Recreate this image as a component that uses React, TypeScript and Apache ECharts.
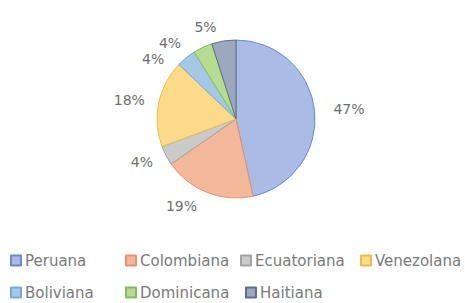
import React, { useEffect, useRef } from "react";
import * as echarts from "echarts";

const categories = ["Peruana", "Colombiana", "Ecuatoriana", "Venezolana", "Boliviana", "Dominicana", "Haitiana"];
const values = [47, 19, 4, 18, 4, 4, 5];
const fills = ["#aabbe6", "#f3b89a", "#cacaca", "#fdd98a", "#a5c8e6", "#b5dc90", "#9ba8bd"];
const borders = ["#6a88cc", "#e39470", "#a3a3a3", "#e8bd55", "#74a9d8", "#86bb62", "#5f6f88"];
const legendLeft = [10, 125, 240, 360, 10, 125, 245];
const legendTop = [253, 253, 253, 253, 285, 285, 285];

export default function App() {
  const ref = useRef<HTMLDivElement>(null);
  useEffect(() => {
    const chart = echarts.init(ref.current!, null, { renderer: "svg" });
    const legends = categories.map((c, i) => ({
      data: [c],
      left: legendLeft[i],
      top: legendTop[i],
      itemWidth: 10,
      itemHeight: 10,
      itemGap: 0,
      icon: "rect",
      padding: 0,
      textStyle: { color: "#7a7a7a", fontSize: 15, fontFamily: "DejaVu Sans", padding: [0, 0, 0, -1] },
    }));
    chart.setOption({
      animation: false,
      color: fills,
      legend: legends,
      series: [
        {
          type: "pie",
          center: [236, 119],
          radius: 79,
          startAngle: 90,
          clockwise: true,
          data: categories.map((c, i) => ({
            name: c,
            value: values[i],
            itemStyle: { color: fills[i], borderColor: borders[i], borderWidth: 1 },
          })),
          label: {
            show: true,
            position: "outside",
            formatter: "{c}%",
            color: "#6e6e6e",
            fontSize: 14,
            fontFamily: "DejaVu Sans",
          },
          labelLine: { show: false, length: 14, length2: 0 },
          emphasis: { disabled: true },
        },
      ],
    });
    return () => chart.dispose();
  }, []);
  return <div ref={ref} style={{ width: 465, height: 303, position: "absolute", left: 0, top: 0, background: "#fff" }} />;
}
